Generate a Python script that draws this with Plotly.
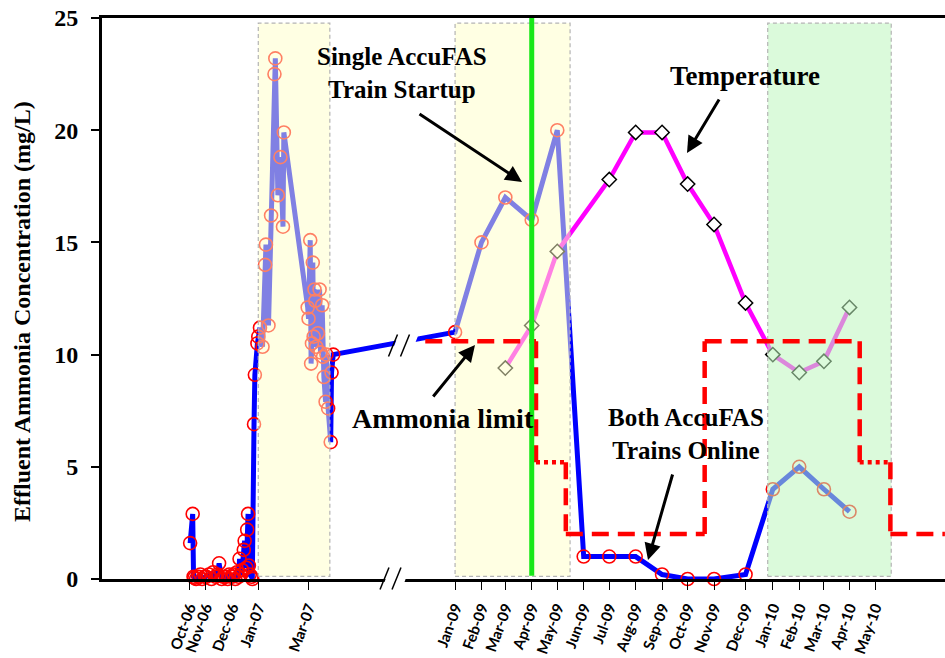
import pandas as pd
import plotly.graph_objects as go

# ---------------- data ----------------
# Effluent ammonia (mg/L) - 2006/2007 period
nh3_dates_0607 = [
    "2006-10-13", "2006-10-16", "2006-10-17", "2006-10-18", "2006-10-20", "2006-10-23",
    "2006-10-25", "2006-10-27", "2006-10-30", "2006-11-01", "2006-11-04", "2006-11-07",
    "2006-11-09", "2006-11-12", "2006-11-14", "2006-11-16", "2006-11-19", "2006-11-21",
    "2006-11-24", "2006-11-26", "2006-11-28", "2006-12-01", "2006-12-03", "2006-12-05",
    "2006-12-07", "2006-12-09", "2006-12-10", "2006-12-12", "2006-12-13", "2006-12-15",
    "2006-12-16", "2006-12-18", "2006-12-19", "2006-12-20", "2006-12-21", "2006-12-22",
    "2006-12-24", "2006-12-25", "2006-12-27", "2006-12-28", "2006-12-31",
    "2007-01-01", "2007-01-03", "2007-01-06", "2007-01-09", "2007-01-10", "2007-01-13",
    "2007-01-16", "2007-01-20", "2007-01-21", "2007-01-24", "2007-01-27", "2007-01-30",
    "2007-01-31", "2007-02-28", "2007-03-01", "2007-03-03", "2007-03-04", "2007-03-05",
    "2007-03-06", "2007-03-07", "2007-03-08", "2007-03-09", "2007-03-10", "2007-03-12",
    "2007-03-14", "2007-03-15", "2007-03-17", "2007-03-18", "2007-03-19", "2007-03-21",
    "2007-03-22", "2007-03-24", "2007-03-27", "2007-03-28", "2007-03-30",
]
nh3_values_0607 = [
    1.6, 2.9, 0.1, 0.05, 0.0, 0.1,
    0.2, 0.0, 0.1, 0.1, 0.2, 0.0,
    0.3, 0.1, 0.2, 0.7, 0.0, 0.1,
    0.1, 0.0, 0.2, 0.1, 0.2, 0.0,
    0.3, 0.1, 0.9, 0.2, 0.4, 1.3,
    1.7, 0.5, 2.2, 2.9, 0.6, 0.2,
    0.1, 0.0, 6.9, 9.1, 10.5,
    10.8, 11.2, 10.35, 14.0, 14.9, 11.3,
    16.2, 22.5, 23.2, 17.1, 18.8, 15.7,
    19.9, 12.1, 11.6, 15.1, 9.6, 10.5,
    14.1, 10.8, 12.9, 12.4, 10.35, 10.95,
    12.9, 10.1, 12.2, 9.9, 9.0, 7.9,
    10.0, 7.6, 6.1, 9.2, 10.0,
]
# Effluent ammonia (mg/L) - 2009/2010 period
nh3_dates_0910 = [
    "2009-01-01", "2009-02-01", "2009-03-01", "2009-04-01", "2009-05-01", "2009-06-01",
    "2009-07-01", "2009-08-01", "2009-09-01", "2009-10-01", "2009-11-01", "2009-12-08",
    "2010-01-09", "2010-02-09", "2010-03-10", "2010-04-09",
]
nh3_values_0910 = [11.0, 15.0, 17.0, 16.0, 20.0, 1.0, 1.0, 1.0, 0.2, 0.0, 0.0, 0.2,
                   4.0, 5.0, 4.0, 3.0]

# Temperature (deg C, same scale)
temp_dates = ["2009-03-01", "2009-04-01", "2009-05-01", "2009-07-01", "2009-08-01",
              "2009-09-01", "2009-10-01", "2009-11-01", "2009-12-08", "2010-01-09",
              "2010-02-09", "2010-03-10", "2010-04-09"]
temp_values = [9.4, 11.3, 14.6, 17.8, 19.9, 19.9, 17.6, 15.8, 12.3, 10.0, 9.2, 9.7, 12.1]

# Ammonia permit limit (mg/L) by period; interim periods drawn dotted
limit_start = ["2008-11-27", "2009-04-06", "2009-05-11", "2009-10-21", "2010-04-21", "2010-05-27"]
limit_end = ["2009-04-06", "2009-05-11", "2009-10-21", "2010-04-21", "2010-05-27", "2010-07-30"]
limit_value = [10.6, 5.2, 2.0, 10.6, 5.2, 2.0]
limit_interim = [False, True, False, False, True, False]

# Single AccuFAS train startup
startup_date = "2009-04-01"

# Shaded periods
yellow_start = ["2007-01-01", "2009-01-01"]
yellow_end = ["2007-03-26", "2009-05-16"]
green_start = ["2010-01-03"]
green_end = ["2010-05-28"]

# Axis tick labels
tick_labels = ["Oct-06", "Nov-06", "Dec-06", "Jan-07", "Mar-07",
               "Jan-09", "Feb-09", "Mar-09", "Apr-09", "May-09", "Jun-09", "Jul-09",
               "Aug-09", "Sep-09", "Oct-09", "Nov-09", "Dec-09",
               "Jan-10", "Feb-10", "Mar-10", "Apr-10", "May-10"]
tick_dates = ["2006-10-12", "2006-10-31", "2006-12-01", "2007-01-01", "2007-03-01",
              "2009-01-01", "2009-02-01", "2009-03-01", "2009-04-01", "2009-05-01",
              "2009-06-01", "2009-07-01", "2009-08-01", "2009-09-01", "2009-10-01",
              "2009-11-01", "2009-12-08", "2010-01-09", "2010-02-09", "2010-03-10",
              "2010-04-09", "2010-05-09"]

# ---------------- broken time axis ----------------
ORIGIN = pd.Timestamp("2007-01-01")
BREAK = pd.Timestamp("2008-01-01")
GAP_DAYS = 500


def xpos(d):
    t = pd.Timestamp(d)
    v = (t - ORIGIN) / pd.Timedelta(days=1)
    if t >= BREAK:
        v -= GAP_DAYS
    return v


def xs(dates):
    return [xpos(d) for d in dates]


# figure geometry helpers (pixels -> paper) for decorations / labels
W, H = 945, 658
ML, MR, MT, MB = 102, 0, 18, 79
PW, PH = W - ML - MR, H - MT - MB


def px(x):
    return (x - ML) / PW


def py(y):
    return (H - MB - y) / PH


fig = go.Figure()

# ammonia
fig.add_trace(go.Scatter(
    x=xs(nh3_dates_0607 + nh3_dates_0910),
    y=nh3_values_0607 + nh3_values_0910,
    mode="lines+markers",
    line=dict(color="#0000ff", width=5),
    marker=dict(symbol="circle-open", size=13, color="#ff0000", line=dict(width=1.6)),
    cliponaxis=False, showlegend=False, hoverinfo="skip",
))

# temperature
fig.add_trace(go.Scatter(
    x=xs(temp_dates), y=temp_values,
    mode="lines+markers",
    line=dict(color="#ff00ff", width=4.5),
    marker=dict(symbol="diamond", size=11, color="white", line=dict(width=1.5, color="black")),
    cliponaxis=False, showlegend=False, hoverinfo="skip",
))

# shaded periods (semi transparent, above the data)
Y0, Y1 = 0.12, 24.77


def rect_path(starts, ends):
    X, Y = [], []
    for s, e in zip(starts, ends):
        a, b = xpos(s), xpos(e)
        X += [a, b, b, a, a, None]
        Y += [Y0, Y0, Y1, Y1, Y0, None]
    return X, Y


for st, en, col in [(yellow_start, yellow_end, "rgba(255,255,200,0.5)"),
                    (green_start, green_end, "rgba(190,246,190,0.55)")]:
    X, Y = rect_path(st, en)
    fig.add_trace(go.Scatter(
        x=X, y=Y, mode="lines", fill="toself", fillcolor=col,
        line=dict(color="#b4b4b4", width=1.2, dash="4px,3px"),
        showlegend=False, hoverinfo="skip",
    ))

# ammonia limit
dash_x, dash_y, dot_x, dot_y = [], [], [], []
for i, (s, e, v, interim) in enumerate(zip(limit_start, limit_end, limit_value, limit_interim)):
    a, b = xpos(s), xpos(e)
    if interim:
        dot_x += [a, b, None]
        dot_y += [v, v, None]
    else:
        dash_x += [a, b, None]
        dash_y += [v, v, None]
    if i + 1 < len(limit_value):
        dash_x += [b, b, None]
        dash_y += [v, limit_value[i + 1], None]
fig.add_trace(go.Scatter(x=dash_x, y=dash_y, mode="lines",
                         line=dict(color="#ff0000", width=4.5, dash="17px,9px"),
                         showlegend=False, hoverinfo="skip", cliponaxis=False))
fig.add_trace(go.Scatter(x=dot_x, y=dot_y, mode="lines",
                         line=dict(color="#ff0000", width=4.5, dash="4px,4px"),
                         showlegend=False, hoverinfo="skip", cliponaxis=False))

# startup line
fig.add_trace(go.Scatter(x=[xpos(startup_date)] * 2, y=[0.15, 25], mode="lines",
                         line=dict(color="#18e818", width=5),
                         showlegend=False, hoverinfo="skip"))

# axis break marks
shapes = []
for (cx, cy) in [(390, 578.5), (398.5, 345.5)]:
    shapes.append(dict(type="path", xref="paper", yref="paper",
                       path=(f"M {px(cx-8)},{py(cy+10)} L {px(cx+12)},{py(cy+10)} "
                             f"L {px(cx+20)},{py(cy-11)} L {px(cx)},{py(cy-11)} Z"),
                       fillcolor="white", line=dict(width=0), layer="above"))
    for off in (0, 12):
        shapes.append(dict(type="line", xref="paper", yref="paper",
                           x0=px(cx - 10 + off), y0=py(cy + 11),
                           x1=px(cx - 1 + off), y1=py(cy - 11),
                           line=dict(color="black", width=1.5), layer="above"))
fig.update_layout(shapes=shapes)

serif = "Liberation Serif"
ann_font = dict(family=serif, size=25, color="black", weight="bold")
annotations = [
    dict(text="Single AccuFAS<br>Train Startup", x=px(402), y=py(73), font=ann_font),
    dict(text="Temperature", x=px(745), y=py(76), font=dict(ann_font, size=27)),
    dict(text="Ammonia limit", x=px(443), y=py(418), font=dict(ann_font, size=28)),
    dict(text="Both AccuFAS<br>Trains Online", x=px(686), y=py(434), font=ann_font),
    dict(text="Effluent Ammonia Concentration (mg/L)", x=px(22), y=py(312), textangle=-90,
         font=dict(family=serif, size=24, color="black", weight="bold")),
]
for a in annotations:
    a.update(xref="paper", yref="paper", showarrow=False, xanchor="center", yanchor="middle")

for tail, head in [((418, 113), (522, 182)), ((720, 98), (687, 153)),
                   ((432, 398), (475, 345)), ((673, 473), (648, 560))]:
    annotations.append(dict(text="", xref="paper", yref="paper", x=px(head[0]), y=py(head[1]),
                            ax=tail[0] - head[0], ay=tail[1] - head[1], showarrow=True,
                            arrowhead=2, arrowsize=1.1, arrowwidth=3, arrowcolor="black",
                            standoff=0, startstandoff=0))
fig.update_layout(annotations=annotations)

x_left = (ML - 258.3) / 0.852
x_right = xpos("2009-01-01") + (W - MR - 455) / 0.852

fig.update_layout(
    width=W, height=H,
    margin=dict(l=ML, r=MR, t=MT, b=MB, autoexpand=False),
    paper_bgcolor="white", plot_bgcolor="white",
    xaxis=dict(range=[x_left, x_right], showgrid=False, zeroline=False, automargin=False,
               showline=True, linecolor="black", linewidth=3, mirror=True,
               tickmode="array", tickvals=xs(tick_dates), ticktext=tick_labels,
               ticks="outside", ticklen=8, tickwidth=1.3, tickcolor="black",
               tickangle=-70, ticklabelstandoff=3,
               tickfont=dict(family="Lato", size=15, color="black", weight="bold")),
    yaxis=dict(range=[0, 25], showgrid=False, zeroline=False, automargin=False,
               showline=True, linecolor="black", linewidth=3,
               tickvals=[0, 5, 10, 15, 20, 25], ticks="outside", ticklen=8, tickwidth=2,
               tickcolor="black", ticklabelstandoff=8,
               tickfont=dict(family=serif, size=24, color="black", weight="bold")),
)

fig.write_html("out.html")
